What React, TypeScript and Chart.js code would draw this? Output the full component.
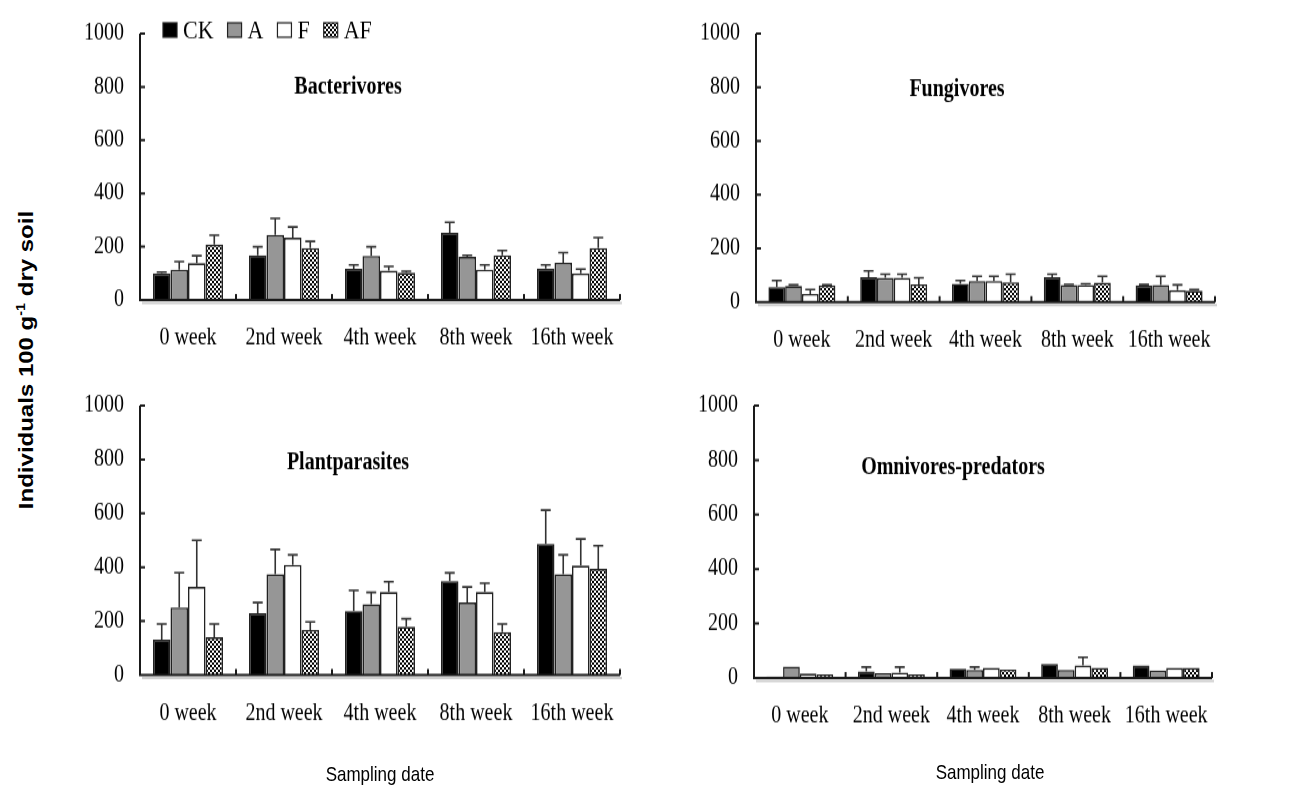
import React, { useEffect, useRef } from "react";
import { Chart, registerables } from "chart.js";

Chart.register(...registerables);

// vertical stretch of the whole figure (the original image is taller than wide-scaled)
const S = 1.2;

const categories = ["0 week", "2nd week", "4th week", "8th week", "16th week"];
const treatments = ["CK", "A", "F", "AF"];
const yTicks = [0, 200, 400, 600, 800, 1000];

// Bacterivores
const bacterivoresCK = [100, 168, 117, 252, 118];
const bacterivoresA = [114, 244, 166, 162, 140];
const bacterivoresF = [138, 234, 110, 114, 100];
const bacterivoresAF = [208, 195, 102, 168, 195];
const bacterivoresErrCK = [5, 32, 15, 40, 14];
const bacterivoresErrA = [30, 62, 34, 6, 38];
const bacterivoresErrF = [28, 40, 16, 18, 16];
const bacterivoresErrAF = [35, 25, 6, 18, 39];

// Fungivores
const fungivoresCK = [56, 92, 68, 92, 62];
const fungivoresA = [60, 90, 78, 64, 64];
const fungivoresF = [30, 90, 78, 64, 44];
const fungivoresAF = [62, 66, 74, 72, 42];
const fungivoresErrCK = [24, 24, 12, 12, 3];
const fungivoresErrA = [4, 14, 18, 2, 32];
const fungivoresErrF = [17, 14, 18, 4, 20];
const fungivoresErrAF = [2, 24, 30, 24, 4];

// Plant parasites
const plantParasitesCK = [131, 229, 237, 349, 487];
const plantParasitesA = [251, 374, 263, 269, 374];
const plantParasitesF = [327, 409, 308, 308, 406];
const plantParasitesAF = [140, 167, 179, 159, 394];
const plantParasitesErrCK = [58, 40, 77, 30, 125];
const plantParasitesErrA = [129, 92, 44, 58, 72];
const plantParasitesErrF = [173, 37, 38, 33, 99];
const plantParasitesErrAF = [49, 30, 30, 30, 86];

// Omnivores-predators
const omnivoresCK = [5, 24, 34, 52, 46];
const omnivoresA = [42, 18, 30, 30, 28];
const omnivoresF = [16, 20, 37, 46, 37];
const omnivoresAF = [13, 13, 31, 37, 37];
const omnivoresErrCK = [0, 16, 0, 0, 0];
const omnivoresErrA = [0, 0, 10, 0, 0];
const omnivoresErrF = [0, 20, 0, 30, 0];
const omnivoresErrAF = [0, 0, 0, 0, 0];

const serif = "'Liberation Serif', 'Times New Roman', serif";
const sans = "'Liberation Sans', Arial, sans-serif";

function makeChecker(canvas: HTMLCanvasElement): CanvasPattern | string {
  const c = document.createElement("canvas");
  c.width = 4;
  c.height = 4;
  const g = c.getContext("2d")!;
  g.fillStyle = "#000";
  g.fillRect(0, 0, 4, 4);
  g.fillStyle = "#fff";
  g.fillRect(0, 0, 2, 2);
  g.fillRect(2, 2, 2, 2);
  const p = canvas.getContext("2d")!.createPattern(c, "repeat");
  return p || "#555";
}

type PanelProps = {
  left: number;
  top: number;
  width: number;
  height: number;
  yWidth: number;
  padTop: number;
  padRight: number;
  xHeight: number;
  title: string;
  titleX: number;
  titleY: number;
  values: number[][];
  errors: number[][];
  legend?: boolean;
};

function Panel(p: PanelProps) {
  const ref = useRef<HTMLCanvasElement>(null);
  useEffect(() => {
    const canvas = ref.current!;
    const fills: any[] = ["#000000", "#969696", "#ffffff", makeChecker(canvas)];

    const decor = {
      id: "decor",
      afterDatasetsDraw(chart: any) {
        const ctx: CanvasRenderingContext2D = chart.ctx;
        const { left, right, bottom } = chart.chartArea;
        const ys = chart.scales.y;
        const xs = chart.scales.x;
        ctx.save();
        // error bars (upper whisker only)
        ctx.strokeStyle = "#333";
        ctx.lineWidth = 1.6;
        chart.data.datasets.forEach((ds: any, i: number) => {
          const meta = chart.getDatasetMeta(i);
          meta.data.forEach((el: any, j: number) => {
            const e = p.errors[i][j];
            if (!e) return;
            const v = ds.data[j];
            const py = ys.getPixelForValue(v + e);
            ctx.beginPath();
            ctx.moveTo(el.x, el.y);
            ctx.lineTo(el.x, py);
            ctx.moveTo(el.x - 5, py);
            ctx.lineTo(el.x + 5, py);
            ctx.stroke();
          });
        });
        // faint shadow under x axis
        ctx.strokeStyle = "#cfcfcf";
        ctx.lineWidth = 2;
        ctx.beginPath();
        ctx.moveTo(left + 2, bottom + 2.5);
        ctx.lineTo(right + 2, bottom + 2.5);
        ctx.stroke();
        // axes
        ctx.strokeStyle = "#1a1a1a";
        ctx.lineWidth = 2;
        ctx.beginPath();
        ctx.moveTo(left, ys.getPixelForValue(yTicks[yTicks.length - 1]));
        ctx.lineTo(left, bottom);
        ctx.lineTo(right, bottom);
        yTicks.forEach((t) => {
          const py = ys.getPixelForValue(t);
          ctx.moveTo(left, py);
          ctx.lineTo(left + 5, py);
        });
        for (let k = 1; k <= categories.length; k++) {
          const px = xs.getPixelForValue(k - 0.5);
          ctx.moveTo(px, bottom);
          ctx.lineTo(px, bottom - 5);
        }
        ctx.stroke();
        // title
        ctx.fillStyle = "#000";
        ctx.font = `bold 20px ${serif}`;
        ctx.textAlign = "center";
        ctx.textBaseline = "middle";
        ctx.fillText(p.title, p.titleX, p.titleY);
        // legend
        if (p.legend) {
          ctx.font = `22px ${serif}`;
          ctx.textAlign = "left";
          let x = left + 23;
          const yc = 25;
          chart.data.datasets.forEach((ds: any) => {
            ctx.fillStyle = ds.backgroundColor;
            ctx.fillRect(x, yc - 6, 14, 12);
            ctx.strokeStyle = "#222";
            ctx.lineWidth = 1.2;
            ctx.strokeRect(x, yc - 6, 14, 12);
            const tx = x + 20;
            ctx.fillStyle = "#000";
            ctx.fillText(ds.label, tx, yc + 1);
            x = tx + ctx.measureText(ds.label).width + 14;
          });
        }
        ctx.restore();
      },
    };

    const chart = new Chart(canvas, {
      type: "bar",
      data: {
        labels: categories,
        datasets: treatments.map((t, i) => ({
          label: t,
          data: p.values[i],
          backgroundColor: fills[i],
          borderColor: "#222",
          borderWidth: 1.6,
          categoryPercentage: 0.73,
          barPercentage: 1.0,
        })),
      },
      options: {
        animation: false,
        responsive: false,
        maintainAspectRatio: false,
        layout: { padding: { top: p.padTop, right: p.padRight, left: 0, bottom: 0 } },
        plugins: { legend: { display: false }, tooltip: { enabled: false } },
        scales: {
          x: {
            type: "category",
            offset: true,
            grid: { display: false, drawTicks: false },
            border: { display: false },
            ticks: {
              color: "#000",
              font: { family: serif, size: 20 },
              padding: 20,
              maxRotation: 0,
              autoSkip: false,
            },
            afterFit: (s: any) => {
              s.height = p.xHeight;
            },
          },
          y: {
            min: 0,
            max: 1000,
            grid: { display: false, drawTicks: false },
            border: { display: false },
            ticks: {
              color: "#000",
              font: { family: serif, size: 20 },
              padding: 16,
              callback: (v: any) => String(v),
            },
            afterBuildTicks: (s: any) => {
              s.ticks = yTicks.map((v) => ({ value: v }));
            },
            afterFit: (s: any) => {
              s.width = p.yWidth;
            },
          },
        },
      } as any,
      plugins: [decor as any],
    });
    return () => chart.destroy();
  }, []);
  return (
    <canvas
      ref={ref}
      width={p.width}
      height={p.height}
      style={{ position: "absolute", left: p.left, top: p.top }}
    />
  );
}

export default function App() {
  return (
    <div
      style={{
        position: "absolute",
        left: 0,
        top: 0,
        width: 1307,
        height: 785 / S,
        background: "#fff",
        transform: `scaleY(${S})`,
        transformOrigin: "0 0",
        overflow: "hidden",
      }}
    >
      <Panel
        left={60}
        top={0}
        width={600}
        height={320}
        yWidth={80}
        padTop={20.8}
        padRight={40}
        xHeight={70}
        title="Bacterivores"
        titleX={288}
        titleY={72.5}
        values={[bacterivoresCK, bacterivoresA, bacterivoresF, bacterivoresAF]}
        errors={[bacterivoresErrCK, bacterivoresErrA, bacterivoresErrF, bacterivoresErrAF]}
        legend
      />
      <Panel
        left={670}
        top={0}
        width={600}
        height={320}
        yWidth={86}
        padTop={20}
        padRight={55}
        xHeight={68.3}
        title="Fungivores"
        titleX={287}
        titleY={75}
        values={[fungivoresCK, fungivoresA, fungivoresF, fungivoresAF]}
        errors={[fungivoresErrCK, fungivoresErrA, fungivoresErrF, fungivoresErrAF]}
      />
      <Panel
        left={60}
        top={310}
        width={600}
        height={340}
        yWidth={80}
        padTop={20}
        padRight={40}
        xHeight={87.5}
        title="Plantparasites"
        titleX={288}
        titleY={76}
        values={[plantParasitesCK, plantParasitesA, plantParasitesF, plantParasitesAF]}
        errors={[plantParasitesErrCK, plantParasitesErrA, plantParasitesErrF, plantParasitesErrAF]}
      />
      <Panel
        left={670}
        top={310}
        width={600}
        height={340}
        yWidth={84}
        padTop={25}
        padRight={58}
        xHeight={85}
        title="Omnivores-predators"
        titleX={283}
        titleY={80}
        values={[omnivoresCK, omnivoresA, omnivoresF, omnivoresAF]}
        errors={[omnivoresErrCK, omnivoresErrA, omnivoresErrF, omnivoresErrAF]}
      />
      <div
        style={{
          position: "absolute",
          left: 26,
          top: 300,
          transform: "translate(-50%, -50%) rotate(-90deg)",
          whiteSpace: "nowrap",
          font: `bold 20px ${sans}`,
          color: "#000",
        }}
      >
        Individuals 100 g<sup style={{ fontSize: 12 }}>-1</sup> dry soil
      </div>
      <div
        style={{
          position: "absolute",
          left: 380,
          top: 646,
          transform: "translate(-50%, -50%)",
          whiteSpace: "nowrap",
          font: `17px ${sans}`,
          color: "#000",
        }}
      >
        Sampling date
      </div>
      <div
        style={{
          position: "absolute",
          left: 990,
          top: 644,
          transform: "translate(-50%, -50%)",
          whiteSpace: "nowrap",
          font: `17px ${sans}`,
          color: "#000",
        }}
      >
        Sampling date
      </div>
    </div>
  );
}
